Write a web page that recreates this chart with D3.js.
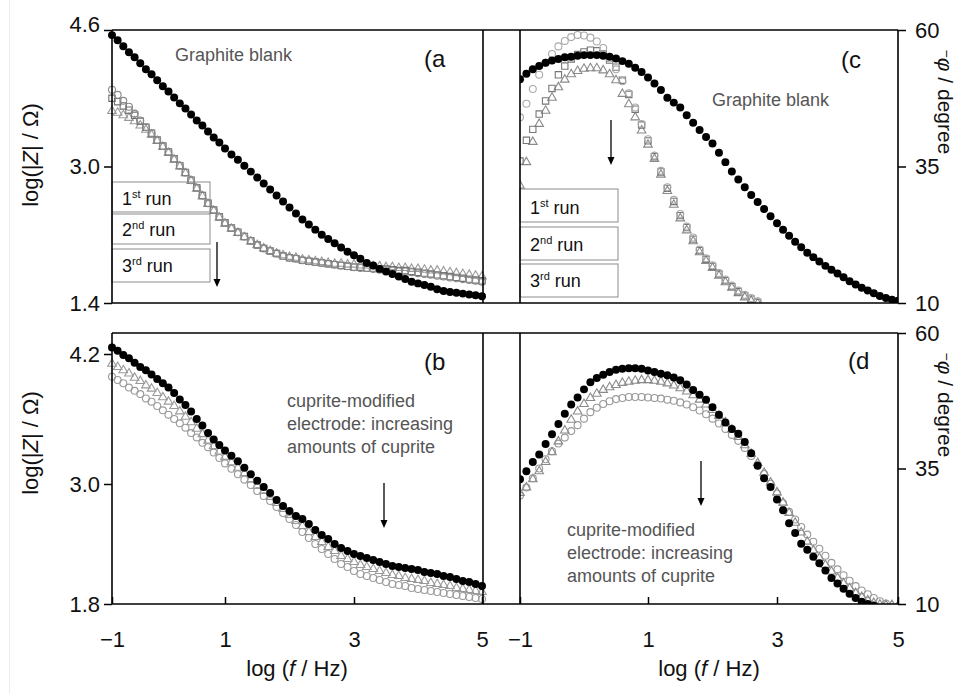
<!DOCTYPE html>
<html>
<head>
<meta charset="utf-8">
<script src="https://cdn.jsdelivr.net/npm/d3@7/dist/d3.min.js"></script>
<style>
  body { margin: 0; background: #fff; }
  svg { display: block; font-family: "Liberation Sans", Arial, sans-serif; }
</style>
</head>
<body>
<svg id="chart" width="962" height="694"></svg>
<script>
// ---- frequency grid (log f / Hz) ----
const freqLog = [
  -1.0,-0.9,-0.8,-0.7,-0.6,-0.5,-0.4,-0.3,-0.2,-0.1,
   0.0, 0.1, 0.2, 0.3, 0.4, 0.5, 0.6, 0.7, 0.8, 0.9,
   1.0, 1.1, 1.2, 1.3, 1.4, 1.5, 1.6, 1.7, 1.8, 1.9,
   2.0, 2.1, 2.2, 2.3, 2.4, 2.5, 2.6, 2.7, 2.8, 2.9,
   3.0, 3.1, 3.2, 3.3, 3.4, 3.5, 3.6, 3.7, 3.8, 3.9,
   4.0, 4.1, 4.2, 4.3, 4.4, 4.5, 4.6, 4.7, 4.8, 4.9, 5.0
];

// ---- (a) log|Z| : graphite blank and three consecutive runs ----
const blankModulus = [
  4.54,4.48,4.41,4.34,4.28,4.21,4.14,4.08,4.01,3.94,
  3.88,3.81,3.74,3.68,3.61,3.54,3.48,3.41,3.34,3.28,
  3.21,3.14,3.08,3.01,2.94,2.87,2.80,2.73,2.66,2.59,
  2.52,2.45,2.38,2.32,2.26,2.20,2.15,2.10,2.05,2.00,
  1.96,1.92,1.87,1.84,1.80,1.77,1.74,1.71,1.68,1.65,
  1.63,1.61,1.59,1.56,1.54,1.53,1.52,1.51,1.50,1.49,1.48
];
const run1Modulus = [
  3.90,3.84,3.77,3.70,3.62,3.54,3.46,3.39,3.31,3.24,
  3.17,3.09,3.01,2.93,2.84,2.75,2.66,2.57,2.49,2.41,
  2.34,2.28,2.23,2.18,2.13,2.08,2.04,2.01,1.98,1.95,
  1.93,1.92,1.90,1.89,1.88,1.87,1.86,1.85,1.84,1.83,
  1.82,1.81,1.81,1.80,1.79,1.79,1.78,1.77,1.77,1.76,
  1.75,1.74,1.73,1.72,1.71,1.70,1.69,1.68,1.67,1.66,1.65
];
const run2Modulus = [
  3.80,3.76,3.71,3.66,3.60,3.53,3.46,3.39,3.31,3.24,
  3.17,3.09,3.01,2.93,2.84,2.75,2.66,2.57,2.49,2.41,
  2.34,2.28,2.23,2.18,2.13,2.08,2.04,2.01,1.98,1.95,
  1.93,1.92,1.90,1.89,1.88,1.87,1.86,1.85,1.84,1.83,
  1.82,1.82,1.81,1.81,1.80,1.80,1.79,1.78,1.78,1.77,
  1.76,1.75,1.74,1.73,1.72,1.71,1.70,1.69,1.68,1.67,1.66
];
const run3Modulus = [
  3.65,3.63,3.60,3.57,3.53,3.48,3.43,3.37,3.30,3.23,
  3.16,3.08,3.00,2.92,2.83,2.74,2.65,2.56,2.48,2.40,
  2.33,2.27,2.22,2.17,2.12,2.08,2.04,2.01,1.98,1.96,
  1.94,1.93,1.91,1.90,1.89,1.88,1.87,1.86,1.86,1.85,
  1.85,1.84,1.84,1.83,1.83,1.82,1.82,1.81,1.81,1.80,
  1.80,1.79,1.78,1.78,1.77,1.76,1.75,1.74,1.73,1.72,1.71
];

// ---- (c) -phase / degree : graphite blank and three runs ----
const blankPhase = [
  51.0,52.0,52.8,53.4,54.0,54.4,54.7,55.0,55.1,55.3,
  55.4,55.4,55.4,55.3,55.1,54.8,54.3,53.8,53.1,52.3,
  51.3,50.2,49.0,47.6,46.7,45.8,44.4,43.0,41.7,40.4,
  39.2,37.5,35.8,34.1,32.6,31.2,29.8,28.5,27.2,25.9,
  24.6,23.4,22.3,21.2,20.2,19.2,18.4,17.6,16.8,16.1,
  15.4,14.7,14.0,13.4,12.8,12.3,11.8,11.3,10.9,10.6,10.4
];
const run1Phase = [
  44.0,46.5,49.2,51.8,54.0,55.6,57.0,58.0,58.7,59.1,
  59.0,58.6,57.9,56.7,54.8,52.8,50.6,48.4,45.8,42.8,
  40.0,37.0,34.2,31.2,28.9,26.3,24.0,22.0,19.8,18.2,
  16.9,15.5,14.3,13.2,12.3,11.5,10.9,10.3
];
const run2Phase = [
  36.0,39.8,41.8,44.6,47.0,49.3,51.8,53.4,54.7,55.5,
  56.0,56.3,56.2,55.6,54.5,53.2,50.8,48.2,45.5,42.6,
  39.7,36.8,34.0,31.0,28.6,26.0,23.8,21.7,19.6,18.0,
  16.7,15.3,14.1,13.0,12.1,11.3,10.7,10.1
];
const run3Phase = [
  31.5,35.8,39.5,42.8,45.2,47.6,49.5,50.9,51.9,52.5,
  52.9,53.0,53.0,52.6,51.9,50.8,48.3,46.4,44.0,41.6,
  39.0,36.4,33.5,30.5,28.0,25.5,23.3,21.3,19.3,17.7,
  16.4,15.0,13.8,12.8,11.8,11.0,10.4,9.9
];

// ---- (b) log|Z| : cuprite-modified electrodes ----
const cupriteModulus1 = [
  4.26,4.23,4.19,4.16,4.12,4.08,4.05,4.01,3.97,3.93,
  3.89,3.84,3.78,3.73,3.67,3.60,3.54,3.47,3.41,3.36,
  3.31,3.26,3.21,3.15,3.09,3.03,2.97,2.91,2.84,2.78,
  2.73,2.68,2.65,2.60,2.54,2.49,2.45,2.40,2.36,2.33,
  2.30,2.28,2.26,2.24,2.22,2.20,2.18,2.17,2.16,2.15,
  2.14,2.12,2.11,2.10,2.08,2.07,2.05,2.03,2.02,2.00,1.98
];
const cupriteModulus2 = [
  4.11,4.08,4.05,4.02,3.98,3.95,3.91,3.88,3.84,3.80,
  3.76,3.72,3.67,3.62,3.57,3.51,3.46,3.40,3.35,3.30,
  3.25,3.20,3.15,3.10,3.04,2.98,2.93,2.87,2.81,2.75,
  2.69,2.63,2.58,2.52,2.47,2.42,2.37,2.33,2.28,2.25,
  2.22,2.19,2.17,2.15,2.13,2.11,2.09,2.08,2.06,2.05,
  2.04,2.03,2.01,2.00,1.99,1.98,1.96,1.95,1.94,1.93,1.92
];
const cupriteModulus3 = [
  3.99,3.96,3.93,3.89,3.86,3.83,3.79,3.76,3.72,3.68,
  3.64,3.60,3.56,3.52,3.47,3.43,3.38,3.34,3.29,3.24,
  3.19,3.14,3.09,3.04,2.99,2.93,2.88,2.83,2.77,2.71,
  2.65,2.59,2.52,2.46,2.40,2.35,2.30,2.25,2.20,2.17,
  2.13,2.10,2.08,2.06,2.04,2.02,2.00,1.99,1.98,1.96,
  1.95,1.94,1.93,1.92,1.91,1.90,1.89,1.88,1.87,1.86,1.85
];

// ---- (d) -phase / degree : cuprite-modified electrodes ----
const cupritePhase1 = [
  33.0,34.5,36.2,37.6,39.5,41.3,43.2,45.1,46.8,48.1,
  49.6,50.9,51.7,52.3,52.8,53.2,53.4,53.5,53.5,53.4,
  53.1,52.8,52.5,52.2,51.8,51.3,50.5,49.5,48.6,47.7,
  46.3,44.9,43.5,42.3,41.4,39.9,37.8,35.5,33.2,31.6,
  29.3,27.3,24.9,23.1,21.1,20.0,18.7,17.5,16.2,14.8,
  13.8,12.8,11.9,11.1,10.4,10.0,9.7
];
const cupritePhase2 = [
  30.5,31.5,33.0,34.5,36.2,38.0,40.0,42.0,44.0,45.5,
  46.9,48.0,48.8,49.5,50.0,50.4,50.8,51.0,51.2,51.3,
  51.3,51.2,51.0,50.7,50.3,49.8,49.2,48.5,47.7,46.8,
  45.8,44.7,43.5,42.2,40.8,39.3,37.7,36.0,34.2,32.4,
  30.6,28.7,26.8,25.0,23.2,21.5,19.9,18.5,17.2,16.0,
  14.8,13.8,12.9,12.0,11.3,10.7,10.2,9.9,9.8,9.8,9.7
];
const cupritePhase3 = [
  30.0,31.5,33.2,35.0,36.7,38.2,39.6,40.7,41.9,43.0,
  44.2,45.4,46.2,46.9,47.4,47.8,48.0,48.2,48.2,48.2,
  48.1,48.0,47.9,47.7,47.5,47.2,46.8,46.3,45.7,45.0,
  44.2,43.3,42.3,41.2,40.1,38.8,37.3,35.7,34.0,32.2,
  30.4,28.6,27.0,25.6,24.2,22.8,21.5,20.2,18.9,17.6,
  16.4,15.3,14.3,13.3,12.5,11.8,11.1,10.5,10.1
];

// ---- axis ticks and labels ----
const freqTicks = [-1, 1, 3, 5];
const modTicksTop = [1.4, 3.0, 4.6];
const modTicksBottom = [1.8, 3.0, 4.2];
const phaseTicks = [10, 35, 60];
const runLabels = [["1", "st"], ["2", "nd"], ["3", "rd"]];
const cupriteNote = ["cuprite-modified", "electrode: increasing", "amounts of cuprite"];

const svg = d3.select("#chart");
const FONT = 22;

// faint rule along the left margin
svg.append("line").attr("x1", 9.5).attr("x2", 9.5).attr("y1", 0).attr("y2", 694)
  .attr("stroke", "#ececec").attr("stroke-width", 1);

// ---- scales ----
const xLeft = d3.scaleLinear().domain(freqTicks).range([112, 225, 354, 482]);
const xRight = d3.scaleLinear().domain(freqTicks).range([520, 648, 777, 898]);
const yA = d3.scaleLinear().domain([1.4, 4.6]).range([303, 30]);
const yB = d3.scaleLinear().domain([1.8, 3.0, 4.2]).range([604, 484, 354]);
const yC = d3.scaleLinear().domain([10, 60]).range([303, 30]);
const yD = d3.scaleLinear().domain([10, 60]).range([604, 333]);

// clip regions for the phase panels
const defs = svg.append("defs");
defs.append("clipPath").attr("id", "clipC").append("rect")
  .attr("x", 520).attr("y", 30).attr("width", 378).attr("height", 273);
defs.append("clipPath").attr("id", "clipD").append("rect")
  .attr("x", 520).attr("y", 333).attr("width", 378).attr("height", 271);

// ---- run boxes (drawn beneath the data) ----
function runBoxes(x, w, boxes) {
  boxes.forEach(([top, bottom, base], i) => {
    svg.append("rect").attr("x", x).attr("y", top).attr("width", w).attr("height", bottom - top)
      .attr("fill", "#fff").attr("stroke", "#8c8c8c").attr("stroke-width", 1);
    const t = svg.append("text").attr("x", x + 10).attr("y", base).attr("font-size", 18).attr("fill", "#111");
    t.append("tspan").text(runLabels[i][0]);
    t.append("tspan").attr("font-size", 11).attr("dy", -7).text(runLabels[i][1]);
    t.append("tspan").attr("dy", 7).text(" run");
  });
}
runBoxes(112, 98, [[182, 212, 205], [214, 244, 236], [249, 282, 272]]);
runBoxes(520, 98, [[189, 222, 214], [227, 260, 251], [264, 297, 287]]);

// ---- markers ----
const symCircle = d3.symbol().type(d3.symbolCircle);
const symSquare = d3.symbol().type(d3.symbolSquare);
const symTri = d3.symbol().type(d3.symbolTriangle);

function drawSeries(g, x, y, values, kind, color) {
  const pts = freqLog.map((f, i) => ({ f, v: values[i] }))
    .filter(d => d.v !== undefined && d.v !== null);
  const sel = g.append("g").selectAll("path").data(pts).join("path")
    .attr("transform", d => `translate(${x(d.f)},${y(d.v)})`);
  if (kind === "filled") {
    sel.attr("d", symCircle.size(50)()).attr("fill", "#000");
  } else {
    const gen = kind === "circle" ? symCircle.size(38)
      : kind === "square" ? symSquare.size(40) : symTri.size(32);
    sel.attr("d", gen()).attr("fill", "none").attr("stroke", color).attr("stroke-width", 1.1);
  }
}

const gA = svg.append("g");
drawSeries(gA, xLeft, yA, run3Modulus, "triangle", "#9a9a9a");
drawSeries(gA, xLeft, yA, run2Modulus, "square", "#707070");
drawSeries(gA, xLeft, yA, run1Modulus, "circle", "#8a8a8a");
drawSeries(gA, xLeft, yA, blankModulus, "filled");

const gC = svg.append("g").attr("clip-path", "url(#clipC)");
drawSeries(gC, xRight, yC, run3Phase, "triangle", "#8a8a8a");
drawSeries(gC, xRight, yC, run2Phase, "square", "#777");
drawSeries(gC, xRight, yC, run1Phase, "circle", "#aaaaaa");
drawSeries(gC, xRight, yC, blankPhase, "filled");

const gB = svg.append("g");
drawSeries(gB, xLeft, yB, cupriteModulus3, "circle", "#9a9a9a");
drawSeries(gB, xLeft, yB, cupriteModulus2, "triangle", "#9a9a9a");
drawSeries(gB, xLeft, yB, cupriteModulus1, "filled");

const gD = svg.append("g").attr("clip-path", "url(#clipD)");
drawSeries(gD, xRight, yD, cupritePhase3, "circle", "#999");
drawSeries(gD, xRight, yD, cupritePhase2, "triangle", "#8a8a8a");
drawSeries(gD, xRight, yD, cupritePhase1, "filled");

// ---- frames ----
const frame = svg.append("g").attr("stroke", "#000").attr("stroke-width", 1.6).attr("fill", "none");
[[30, 303], [333, 604]].forEach(([t, b]) => {
  frame.append("line").attr("x1", 112).attr("x2", 898).attr("y1", t).attr("y2", t);
  frame.append("line").attr("x1", 112).attr("x2", 898).attr("y1", b).attr("y2", b);
  [112, 483, 520, 898].forEach(xv => {
    frame.append("line").attr("x1", xv).attr("x2", xv).attr("y1", t).attr("y2", b);
  });
});

// ---- axes ----
function styleAxis(g) {
  g.select(".domain").remove();
  g.selectAll(".tick line").attr("stroke", "#000").attr("stroke-width", 1.5);
  g.selectAll(".tick text").attr("font-size", FONT).attr("fill", "#111")
    .attr("font-family", "Liberation Sans, Arial, sans-serif");
}
const fmt1 = d3.format(".1f");
const minusFmt = d => d < 0 ? "\u2212" + Math.abs(d) : String(d);

const axA = svg.append("g").attr("transform", "translate(112,0)")
  .call(d3.axisLeft(yA).tickValues(modTicksTop).tickFormat(fmt1).tickSize(8).tickPadding(4));
styleAxis(axA);
axA.selectAll(".tick text").filter(d => d === 4.6).attr("y", -6);

const axB = svg.append("g").attr("transform", "translate(112,0)")
  .call(d3.axisLeft(yB).tickValues(modTicksBottom).tickFormat(fmt1).tickSize(8).tickPadding(4));
styleAxis(axB);

const axC = svg.append("g").attr("transform", "translate(898,0)")
  .call(d3.axisRight(yC).tickValues(phaseTicks).tickSize(8).tickPadding(9));
styleAxis(axC);
const axD = svg.append("g").attr("transform", "translate(898,0)")
  .call(d3.axisRight(yD).tickValues(phaseTicks).tickSize(8).tickPadding(9));
styleAxis(axD);

[xLeft, xRight].forEach(x => {
  const ax = svg.append("g").attr("transform", "translate(0,604)")
    .call(d3.axisBottom(x).tickValues(freqTicks).tickFormat(minusFmt)
      .tickSizeInner(-7).tickSizeOuter(0).tickPadding(27));
  styleAxis(ax);
});

// ---- axis titles ----
function freqTitle(cx) {
  const t = svg.append("text").attr("x", cx).attr("y", 676).attr("text-anchor", "middle")
    .attr("font-size", FONT).attr("fill", "#111");
  t.append("tspan").text("log (");
  t.append("tspan").attr("font-style", "italic").text("f");
  t.append("tspan").text(" / Hz)");
}
freqTitle(297);
freqTitle(709);

function modTitle(cy) {
  const t = svg.append("text").attr("transform", `translate(38,${cy}) rotate(-90)`)
    .attr("text-anchor", "middle").attr("font-size", FONT).attr("fill", "#111");
  t.append("tspan").text("log(|");
  t.append("tspan").attr("font-style", "italic").text("Z");
  t.append("tspan").text("| / \u03A9)");
}
modTitle(155);
modTitle(443);

function phaseTitle(cy) {
  const t = svg.append("text").attr("transform", `translate(938,${cy}) rotate(90)`)
    .attr("text-anchor", "middle").attr("font-size", 21).attr("fill", "#111");
  t.append("tspan").attr("font-size", 14).attr("dy", -4).text("\u2212");
  t.append("tspan").attr("font-style", "italic").attr("dy", 4).text("\u03C6");
  t.append("tspan").text("  /  degree");
}
phaseTitle(102);
phaseTitle(405);

// ---- panel letters ----
[["(a", 424, 67], ["(c", 841, 68], ["(b", 424, 370], ["(d", 848, 369]].forEach(([s, x, y]) => {
  svg.append("text").attr("x", x).attr("y", y).attr("font-size", 24).attr("fill", "#111").text(s);
});

// ---- notes ----
const grey = "#555";
svg.append("text").attr("x", 175).attr("y", 61).attr("font-size", 18).attr("fill", grey).text("Graphite blank");
svg.append("text").attr("x", 712).attr("y", 106).attr("font-size", 18).attr("fill", grey).text("Graphite blank");

function note(x, y0) {
  const t = svg.append("text").attr("font-size", 18).attr("fill", grey);
  cupriteNote.forEach((s, i) => t.append("tspan").attr("x", x).attr("y", y0 + i * 23).text(s));
}
note(287, 407);
note(567, 536);

// ---- arrows ----
function arrow(x, y1, y2) {
  svg.append("line").attr("x1", x).attr("x2", x).attr("y1", y1).attr("y2", y2 - 6)
    .attr("stroke", "#000").attr("stroke-width", 1.3);
  svg.append("path").attr("d", `M${x - 3.5},${y2 - 8}L${x + 3.5},${y2 - 8}L${x},${y2}Z`).attr("fill", "#000");
}
arrow(217, 242, 287);
arrow(611, 120, 165);
arrow(384, 483, 528);
arrow(701, 461, 506);
</script>
</body>
</html>
